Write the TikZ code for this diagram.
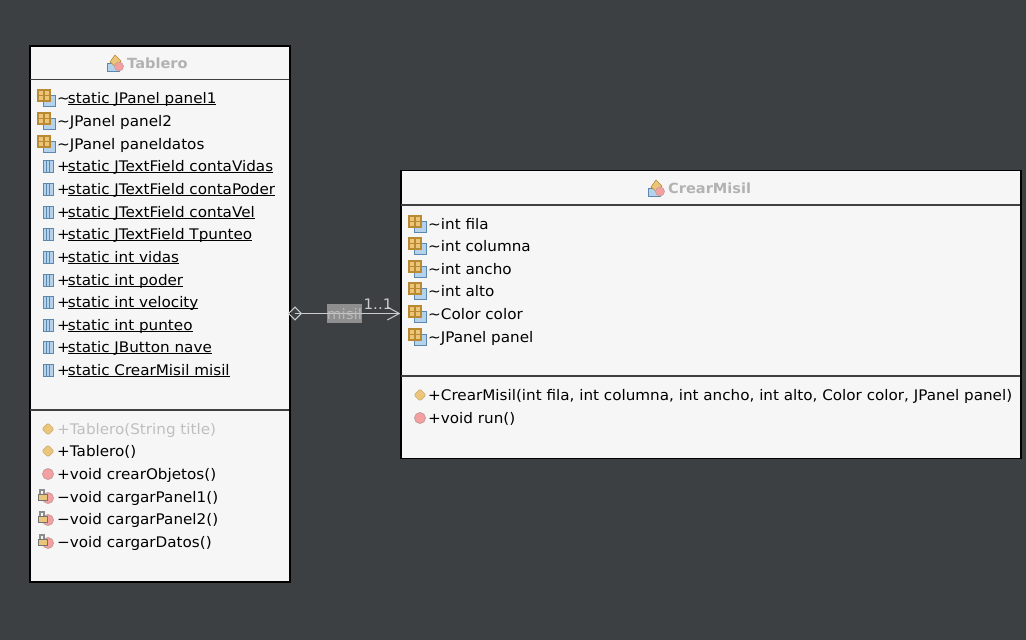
\documentclass[tikz,border=0pt]{standalone}
\usepackage{fontspec}
\setmainfont[FakeStretch=1.04]{DejaVu Sans}
\usetikzlibrary{arrows.meta}
\definecolor{canvas}{HTML}{3C4043}
\definecolor{boxfill}{HTML}{F6F6F6}
\definecolor{titlegray}{HTML}{B2B2B2}
\definecolor{linkgray}{HTML}{CBCBCB}
\definecolor{gridorange}{HTML}{B98A32}
\definecolor{gridlight}{HTML}{EBC67A}
\definecolor{fieldblue}{HTML}{B4D2EC}
\definecolor{fieldedge}{HTML}{5C88AE}
\definecolor{pinkdot}{HTML}{F4A0A0}
\definecolor{pinkedge}{HTML}{C99A9A}
\newcommand{\stname}[1]{\kern-2pt\underline{\smash{#1}}}
\tikzset{
  classbox/.style={draw=black, line width=1.4pt, fill=boxfill, anchor=north west, inner sep=0pt},
  sepline/.style={draw=black!75, line width=1.4pt},
  titletext/.style={font=\fontsize{14}{16}\selectfont\bfseries, text=titlegray, anchor=base west, inner sep=0pt},
  rowtext/.style={font=\fontsize{14.6}{16}\selectfont, text=black, anchor=base west, inner sep=0pt},
  fadedrow/.style={rowtext, text=black!25},
  linktext/.style={font=\fontsize{14.5}{16}\selectfont, text=linkgray, inner sep=0pt},
  pkgfield/.pic={
    \fill[fieldblue] (-1,-3) rectangle (11,8);
    \draw[fieldedge, line width=.8pt] (-1,-3) rectangle (11,8);
    \fill[gridlight] (-6,-8) rectangle (6,3);
    \draw[gridorange, line width=1.3pt] (-6,-8) rectangle (6,3) (0,-8) -- (0,3) (-6,-2.5) -- (6,-2.5);
  },
  pubfield/.pic={
    \fill[fieldblue] (-5,-6) rectangle (5,6);
    \draw[fieldedge, line width=.8pt] (-5,-6) rectangle (5,6) (-1.5,-6) -- (-1.5,6) (1.5,-6) -- (1.5,6);
  },
  ctordot/.pic={
    \fill[gridlight, draw=gridorange!70, line width=.7pt, rounded corners=1.5pt] (-6,0) -- (0,-6) -- (6,0) -- (0,6) -- cycle;
  },
  methdot/.pic={
    \fill[pinkdot, draw=pinkedge, line width=.8pt] (0,0) circle (5.5);
  },
  privdot/.pic={
    \fill[pinkdot, draw=pinkedge, line width=.8pt] (4,1) circle (5.5);
    \fill[gridlight, draw=black!55, line width=.7pt] (-6,-3) rectangle (3,3);
    \draw[black!45, line width=1.4pt] (-4,-3) -- (-4,-7) -- (0,-7) -- (0,-3);
  },
  classicon/.pic={
    \fill[fieldblue, draw=fieldedge, line width=.6pt] (-9,0) rectangle (3,8);
    \fill[gridlight, draw=gridorange, line width=.6pt] (-6,-1) -- (-1,-8) -- (5,-2) -- (0,4) -- cycle;
    \fill[pinkdot, draw=pinkedge, line width=.6pt] (3,3.5) circle (4.5);
  }
}
\begin{document}
\begin{tikzpicture}[x=1pt, y=-1pt]
\useasboundingbox (0,0) rectangle (1026,640);
\fill[canvas] (0,0) rectangle (1026,640);
% class boxes
\node[classbox, minimum width=260pt, minimum height=536pt] (tablero) at (29.3,45.4) {};
\node[classbox, minimum width=620pt, minimum height=288pt] (crearmisil) at (400.3,169.8) {};
\draw[sepline] (30,79.5) -- (289,79.5);
\draw[sepline] (30,410) -- (289,410);
\draw[sepline] (401,205) -- (1020,205);
\draw[sepline] (401,376) -- (1020,376);
% titles
\pic at (116,63) {classicon};
\node[titletext] (tablerotitle) at (127,68) {Tablero};
\pic at (657,188) {classicon};
\node[titletext] (misiltitle) at (668,193) {CrearMisil};
% Tablero fields
\foreach \y/\kind/\txt [count=\i] in {
  98/pkgfield/{\textasciitilde\stname{static JPanel panel1}},
  121/pkgfield/{\textasciitilde JPanel panel2},
  144/pkgfield/{\textasciitilde JPanel paneldatos},
  166/pubfield/{+\stname{static JTextField contaVidas}},
  189/pubfield/{+\stname{static JTextField contaPoder}},
  212/pubfield/{+\stname{static JTextField contaVel}},
  234/pubfield/{+\stname{static JTextField Tpunteo}},
  257/pubfield/{+\stname{static int vidas}},
  280/pubfield/{+\stname{static int poder}},
  302/pubfield/{+\stname{static int velocity}},
  325/pubfield/{+\stname{static int punteo}},
  347/pubfield/{+\stname{static JButton nave}},
  370/pubfield/{+\stname{static CrearMisil misil}}} {
  \ifnum\i<4 \pic at (44,\y) {\kind}; \else \pic at (48,\y) {\kind}; \fi
  \node[rowtext] (tablerofield\i) at (57,\y+5) {\txt};
}
% Tablero methods
\pic at (48,429) {ctordot};
\node[fadedrow] (tableromethod1) at (57,434) {+Tablero(String title)};
\foreach \y/\kind/\txt [count=\i from 2] in {
  451/ctordot/{+Tablero()},
  474/methdot/{+void crearObjetos()},
  497/privdot/{−void cargarPanel1()},
  519/privdot/{−void cargarPanel2()},
  542/privdot/{−void cargarDatos()}} {
  \ifnum\i<4 \pic at (48,\y) {\kind}; \else \pic at (44,\y) {\kind}; \fi
  \node[rowtext] (tableromethod\i) at (57,\y+5) {\txt};
}
% CrearMisil fields
\foreach \y/\txt [count=\i] in {
  224/int fila,
  246/int columna,
  269/int ancho,
  291/int alto,
  314/Color color,
  337/JPanel panel} {
  \pic at (415,\y) {pkgfield};
  \node[rowtext] (misilfield\i) at (428,\y+5) {\textasciitilde\txt};
}
% CrearMisil methods
\pic at (420,395) {ctordot};
\node[rowtext] (misilmethod1) at (428,400) {+CrearMisil(int fila, int columna, int ancho, int alto, Color color, JPanel panel)};
\pic at (420,418) {methdot};
\node[rowtext] (misilmethod2) at (428,423) {+void run()};
% association
\node[fill=white!56!black, minimum width=35pt, minimum height=19pt, inner sep=0pt] (misilbox) at (344.5,313.5) {};
\node[draw=linkgray, line width=1pt, shape=rectangle, rotate=45, minimum size=9pt, inner sep=0pt] (aggend) at (295,313.5) {};
\draw[linkgray, line width=1pt, -{Straight Barb[length=12pt,width=13pt]}] (aggend.north east |- aggend.center) -- (crearmisil.west |- aggend.center);
\node[linktext, text=white!72!black] (misillabel) at (344.5,314) {misil};
\node[linktext] (multlabel) at (378,304.5) {1..1};
\end{tikzpicture}
\end{document}
